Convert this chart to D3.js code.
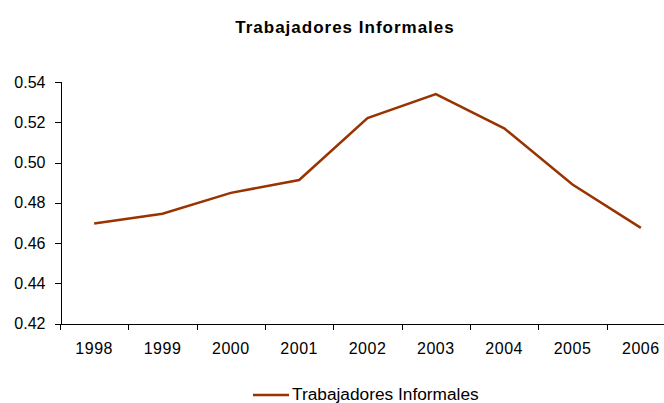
<!DOCTYPE html>
<html lang="en">
	<head>
		<meta charset="utf-8">
		<title>Trabajadores Informales</title>
		<script type="text/javascript" src="https://cdn.jsdelivr.net/npm/d3@7/dist/d3.min.js"></script>
		<style type="text/css">
			body { margin: 0; background: #fff; }
			.axis path,
			.axis line {
				fill: none;
				stroke: #000;
				shape-rendering: crispEdges;
			}
			.axis text {
				font-family: "Liberation Sans", Arial, sans-serif;
				font-size: 16px;
				fill: #000;
			}
			.x.axis text { letter-spacing: 0.5px; }
		</style>
	</head>
	<body>
		<script type="text/javascript">

			//SVG width and height
			var w = 664;
			var h = 403;

			//Data
			var years = ["1998", "1999", "2000", "2001", "2002", "2003", "2004", "2005", "2006"];
			var informales = [0.4697, 0.4745, 0.4849, 0.4913, 0.5221, 0.5340, 0.5170, 0.4891, 0.4675];
			var yTicks = [0.42, 0.44, 0.46, 0.48, 0.50, 0.52, 0.54];
			var seriesName = "Trabajadores Informales";
			var lineColor = "#993300";

			// Scales (plot area runs past the right edge, like the original)
			var xScale = d3.scaleBand()
							.domain(years)
							.range([60, 675]);

			var yScale = d3.scaleLinear()
							.domain([0.42, 0.54])
							.range([323.5, 82]);

			var svg = d3.select("body")
						.append("svg")
						.attr("width", w)
						.attr("height", h);

			// Title
			svg.append("text")
				.attr("x", 345)
				.attr("y", 33)
				.attr("text-anchor", "middle")
				.style("font-family", "'Liberation Sans', Arial, sans-serif")
				.style("font-size", "17px")
				.style("font-weight", "bold")
				.style("letter-spacing", "1px")
				.text(seriesName);

			// Axes
			var xAxis = d3.axisBottom(xScale)
							.tickSize(0)
							.tickPadding(19);
			var yAxis = d3.axisLeft(yScale)
							.tickValues(yTicks)
							.tickFormat(d3.format(".2f"))
							.tickSizeOuter(0)
							.tickSize(6)
							.tickPadding(9);

			var gx = svg.append("g")
				.attr("class", "x axis")
				.attr("transform", "translate(0," + 323.5 + ")")
				.call(xAxis);
			gx.select(".domain").attr("d", "M60,0.5H675");

			// category boundary ticks
			gx.selectAll(".sep")
				.data(years)
				.enter()
				.append("line")
				.attr("class", "sep")
				.attr("x1", function(d){ return xScale(d) + 0.5; })
				.attr("x2", function(d){ return xScale(d) + 0.5; })
				.attr("y1", 0)
				.attr("y2", 6);

			svg.append("g")
				.attr("class", "y axis")
				.attr("transform", "translate(60.5,0)")
				.call(yAxis);

			// Line
			var line = d3.line()
						.x(function(d, i){ return xScale(years[i]) + xScale.bandwidth() / 2; })
						.y(function(d){ return yScale(d); });

			svg.append("path")
				.datum(informales)
				.attr("fill", "none")
				.attr("stroke", lineColor)
				.attr("stroke-width", 2.5)
				.attr("d", line);

			// Legend
			var legend = svg.append("g")
							.attr("transform", "translate(253,395)");
			legend.append("line")
				.attr("x1", 0)
				.attr("x2", 36)
				.attr("y1", 0)
				.attr("y2", 0)
				.attr("stroke", lineColor)
				.attr("stroke-width", 2.5);
			legend.append("text")
				.attr("x", 39)
				.attr("y", 4.5)
				.style("font-family", "'Liberation Sans', Arial, sans-serif")
				.style("font-size", "17.3px")
				.text(seriesName);

		</script>
	</body>
</html>
